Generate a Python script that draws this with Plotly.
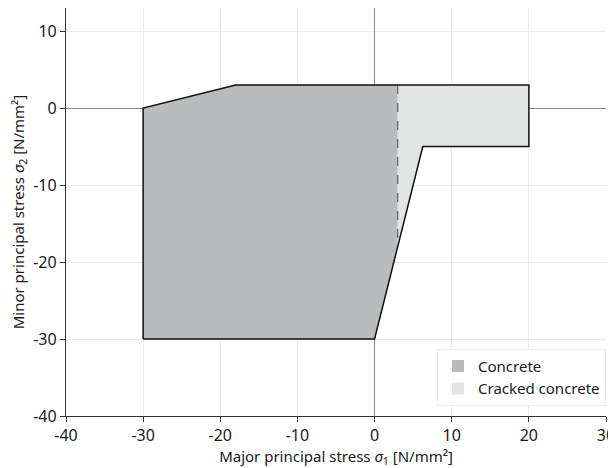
import plotly.graph_objects as go

# Data
concrete_x = [-30, -30, -18, 3, 3, 0, -30]
concrete_y = [-30, 0, 3, 3, -18, -30, -30]
cracked_x = [3, 20, 20, 6.25, 3, 3]
cracked_y = [3, 3, -5, -5, -18, 3]
outline_x = [-30, -30, -18, 20, 20, 6.25, 0, -30]
outline_y = [-30, 0, 3, 3, -5, -5, -30, -30]
dash_x = [3, 3]
dash_y = [3, -18]
x_ticks = [-40, -30, -20, -10, 0, 10, 20, 30]
y_ticks = [-40, -30, -20, -10, 0, 10]

FONT = "Noto Sans, Open Sans, sans-serif"
C_CONCRETE = "#b9bbbc"
C_CRACKED = "#e3e5e5"

fig = go.Figure()
fig.add_trace(go.Scatter(x=concrete_x, y=concrete_y, fill="toself", fillcolor=C_CONCRETE,
                         line=dict(width=0, color=C_CONCRETE), mode="lines", showlegend=False,
                         hoverinfo="skip"))
fig.add_trace(go.Scatter(x=cracked_x, y=cracked_y, fill="toself", fillcolor=C_CRACKED,
                         line=dict(width=0, color=C_CRACKED), mode="lines", showlegend=False,
                         hoverinfo="skip"))
fig.add_trace(go.Scatter(x=dash_x, y=dash_y, mode="lines",
                         line=dict(color="#666666", width=1.3, dash="dash"), showlegend=False))
fig.add_trace(go.Scatter(x=outline_x, y=outline_y, mode="lines",
                         line=dict(color="#111111", width=1.5), showlegend=False))
# legend-only entries
fig.add_trace(go.Bar(x=[None], y=[None], marker=dict(color=C_CONCRETE, line=dict(width=0)),
                     name="Concrete"))
fig.add_trace(go.Bar(x=[None], y=[None], marker=dict(color=C_CRACKED, line=dict(width=0)),
                     name="Cracked concrete"))

axis_common = dict(showgrid=True, gridcolor="#ebebeb", gridwidth=1,
                   zeroline=True, zerolinecolor="#888888", zerolinewidth=1,
                   showline=True, linecolor="#333333", linewidth=1.2,
                   ticks="outside", ticklen=5, tickcolor="#333333",
                   tickfont=dict(size=16, color="#1a1a1a", family=FONT),
                   automargin=False)

# page body has an 8px margin, so the figure is sized/offset to compensate
fig.update_layout(
    width=608, height=460,
    margin=dict(l=58, r=10, t=0, b=52),
    paper_bgcolor="white", plot_bgcolor="white",
    font=dict(family=FONT, color="#1a1a1a"),
    xaxis=dict(range=[-40, 30], tickvals=x_ticks, ticktext=[str(v) for v in x_ticks],
               title=dict(text="Major principal stress <i>σ</i><sub>1</sub> [N/mm²]",
                          font=dict(size=15), standoff=2), **axis_common),
    yaxis=dict(range=[-40, 13], tickvals=y_ticks, ticktext=[str(v) for v in y_ticks],
               title=dict(text="Minor principal stress <i>σ</i><sub>2</sub> [N/mm²]",
                          font=dict(size=15), standoff=8), **axis_common),
    legend=dict(x=1, y=0.025, xanchor="right", yanchor="bottom",
                bgcolor="white", bordercolor="#eeeeee", borderwidth=1,
                font=dict(size=15, family=FONT), tracegroupgap=0, itemwidth=30),
    showlegend=True,
)

fig.write_html("out.html")
